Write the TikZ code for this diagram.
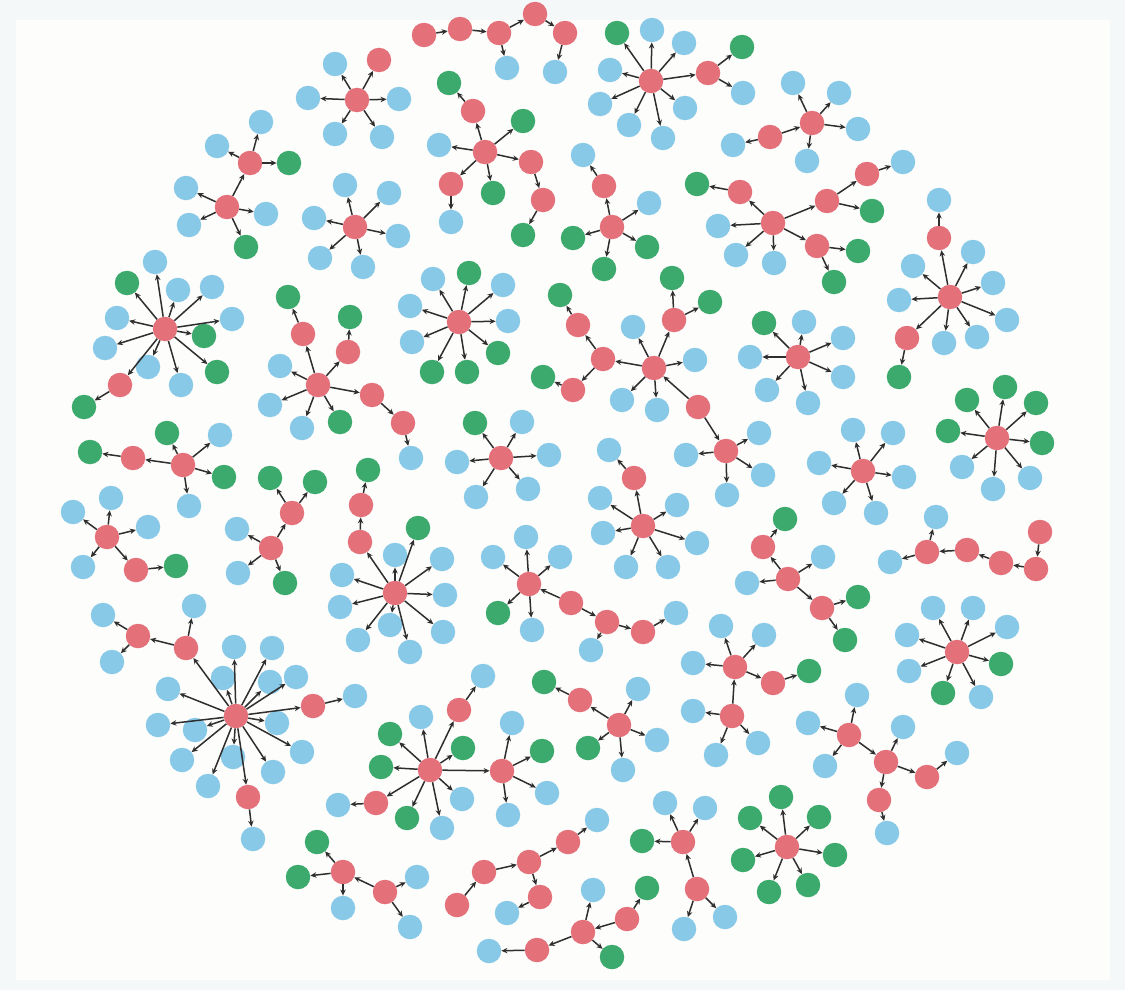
\documentclass[tikz,border=0pt]{standalone}
\usetikzlibrary{arrows.meta}
\definecolor{cR}{HTML}{E4707A}
\definecolor{cB}{HTML}{88C9E8}
\definecolor{cG}{HTML}{3BAA6C}
\definecolor{cE}{HTML}{2E2E2E}
\definecolor{bgA}{HTML}{F4F8F9}
\definecolor{bgB}{HTML}{FDFDFC}
\begin{document}
\begin{tikzpicture}[x=1pt,y=-1pt,
  nd/.style={circle,inner sep=0pt,minimum size=24.5pt,draw=none},
  rn/.style={nd,fill=cR},
  bn/.style={nd,fill=cB},
  gn/.style={nd,fill=cG},
  ed/.style={draw=cE,line width=1.5pt,-{Stealth[length=6pt,width=5.5pt]}}]
\fill[bgA] (0,0) rectangle (1125,990);
\fill[bgB] (16,20) rectangle (1110,980);
\useasboundingbox (0,0) rectangle (1125,990);
% top chain
\node[rn] (tc1) at (424,35) {};
\node[rn] (tc2) at (460,29) {};
\node[rn] (tc3) at (499,33) {};
\node[rn] (tc4) at (535,14) {};
\node[rn] (tc5) at (565,33) {};
\node[bn] (tc6) at (507,68) {};
\node[bn] (tc7) at (555,72) {};
% A
\node[rn] (a0) at (357,100) {};
\node[rn] (a1) at (379,60) {};
\node[bn] (a2) at (335,64) {};
\node[bn] (a3) at (308,98) {};
\node[bn] (a4) at (399,99) {};
\node[bn] (a5) at (335,134) {};
\node[bn] (a6) at (382,137) {};
% B
\node[rn] (b1) at (250,163) {};
\node[bn] (b2) at (261,122) {};
\node[bn] (b3) at (217,146) {};
\node[gn] (b4) at (289,163) {};
\node[rn] (b0) at (227,207) {};
\node[bn] (b5) at (186,188) {};
\node[bn] (b6) at (189,225) {};
\node[bn] (b7) at (266,214) {};
\node[gn] (b8) at (246,247) {};
% C
\node[rn] (c0) at (355,227) {};
\node[bn] (c1) at (345,185) {};
\node[bn] (c2) at (389,193) {};
\node[bn] (c3) at (398,236) {};
\node[bn] (c4) at (363,267) {};
\node[bn] (c5) at (320,258) {};
\node[bn] (c6) at (314,218) {};
% D
\node[rn] (d0) at (485,152) {};
\node[rn] (d1) at (473,111) {};
\node[gn] (d2) at (449,83) {};
\node[gn] (d3) at (523,121) {};
\node[bn] (d4) at (439,145) {};
\node[rn] (d5) at (531,162) {};
\node[rn] (d6) at (543,200) {};
\node[gn] (d7) at (523,235) {};
\node[rn] (d8) at (451,184) {};
\node[bn] (d9) at (451,222) {};
\node[gn] (d10) at (493,193) {};
% E
\node[rn] (e0) at (651,81) {};
\node[gn] (e1) at (617,33) {};
\node[bn] (e2) at (652,30) {};
\node[bn] (e3) at (684,43) {};
\node[bn] (e4) at (610,70) {};
\node[bn] (e5) at (600,104) {};
\node[bn] (e6) at (629,125) {};
\node[bn] (e7) at (663,138) {};
\node[bn] (e8) at (685,108) {};
\node[rn] (e9) at (708,73) {};
\node[gn] (e10) at (742,47) {};
\node[bn] (e11) at (743,93) {};
% F
\node[rn] (f0) at (812,123) {};
\node[bn] (f1) at (793,83) {};
\node[bn] (f2) at (839,93) {};
\node[bn] (f3) at (858,129) {};
\node[bn] (f4) at (807,161) {};
\node[rn] (f5) at (770,137) {};
\node[bn] (f6) at (733,145) {};
% G
\node[rn] (g0) at (773,223) {};
\node[rn] (g1) at (740,192) {};
\node[gn] (g2) at (697,184) {};
\node[bn] (g3) at (718,226) {};
\node[bn] (g4) at (736,255) {};
\node[bn] (g5) at (774,263) {};
\node[rn] (g6) at (817,246) {};
\node[gn] (g7) at (858,251) {};
\node[gn] (g8) at (834,282) {};
\node[rn] (g9) at (827,201) {};
\node[gn] (g10) at (872,211) {};
\node[rn] (g11) at (867,174) {};
\node[bn] (g12) at (903,162) {};
% H
\node[rn] (h0) at (612,227) {};
\node[rn] (h1) at (604,186) {};
\node[bn] (h2) at (583,155) {};
\node[bn] (h3) at (649,203) {};
\node[gn] (h4) at (647,247) {};
\node[gn] (h5) at (573,238) {};
\node[gn] (h6) at (604,269) {};
% I
\node[rn] (i0) at (950,297) {};
\node[rn] (i1) at (939,238) {};
\node[bn] (i2) at (939,200) {};
\node[bn] (i3) at (973,252) {};
\node[bn] (i4) at (993,283) {};
\node[bn] (i5) at (1007,320) {};
\node[bn] (i6) at (913,266) {};
\node[bn] (i7) at (899,300) {};
\node[rn] (i8) at (907,338) {};
\node[gn] (i9) at (899,377) {};
\node[bn] (i10) at (944,343) {};
\node[bn] (i11) at (977,337) {};
% J
\node[rn] (j0) at (165,329) {};
\node[gn] (j1) at (127,283) {};
\node[bn] (j2) at (155,262) {};
\node[bn] (j3) at (178,290) {};
\node[bn] (j4) at (212,287) {};
\node[bn] (j5) at (117,318) {};
\node[bn] (j6) at (232,319) {};
\node[gn] (j7) at (204,336) {};
\node[bn] (j8) at (105,348) {};
\node[bn] (j9) at (148,367) {};
\node[bn] (j10) at (181,385) {};
\node[gn] (j11) at (217,372) {};
\node[rn] (j12) at (120,385) {};
\node[gn] (j13) at (84,407) {};
% K
\node[rn] (k0) at (318,385) {};
\node[rn] (k1) at (303,334) {};
\node[gn] (k2) at (288,297) {};
\node[rn] (k3) at (348,352) {};
\node[gn] (k4) at (350,317) {};
\node[rn] (k5) at (372,395) {};
\node[rn] (k6) at (403,423) {};
\node[bn] (k7) at (411,458) {};
\node[bn] (k8) at (280,366) {};
\node[bn] (k9) at (270,405) {};
\node[bn] (k10) at (302,428) {};
\node[gn] (k11) at (340,422) {};
% L
\node[rn] (l0) at (459,322) {};
\node[bn] (l1) at (433,279) {};
\node[gn] (l2) at (469,273) {};
\node[bn] (l3) at (503,285) {};
\node[bn] (l4) at (410,306) {};
\node[bn] (l5) at (508,321) {};
\node[bn] (l6) at (412,342) {};
\node[gn] (l7) at (432,372) {};
\node[gn] (l8) at (467,372) {};
\node[gn] (l9) at (498,353) {};
% M
\node[rn] (m0) at (654,368) {};
\node[rn] (m1) at (674,320) {};
\node[gn] (m2) at (672,278) {};
\node[gn] (m3) at (710,302) {};
\node[bn] (m4) at (633,327) {};
\node[bn] (m5) at (695,360) {};
\node[bn] (m6) at (622,400) {};
\node[bn] (m7) at (657,410) {};
\node[rn] (m8) at (698,407) {};
\node[rn] (m9) at (603,359) {};
\node[rn] (m10) at (578,325) {};
\node[gn] (m11) at (560,295) {};
\node[rn] (m12) at (573,390) {};
\node[gn] (m13) at (543,377) {};
% N
\node[rn] (n0) at (726,451) {};
\node[bn] (n1) at (759,433) {};
\node[bn] (n2) at (763,475) {};
\node[bn] (n3) at (727,495) {};
\node[bn] (n4) at (686,455) {};
% O
\node[rn] (o0) at (798,357) {};
\node[gn] (o1) at (764,323) {};
\node[bn] (o2) at (804,322) {};
\node[bn] (o3) at (843,338) {};
\node[bn] (o4) at (750,357) {};
\node[bn] (o5) at (843,377) {};
\node[bn] (o6) at (767,390) {};
\node[bn] (o7) at (808,403) {};
% P
\node[rn] (p0) at (863,471) {};
\node[bn] (p1) at (853,430) {};
\node[bn] (p2) at (893,433) {};
\node[bn] (p3) at (904,477) {};
\node[bn] (p4) at (876,513) {};
\node[bn] (p5) at (834,503) {};
\node[bn] (p6) at (819,463) {};
% Q
\node[rn] (q0) at (997,438) {};
\node[gn] (q1) at (1005,387) {};
\node[gn] (q2) at (967,400) {};
\node[gn] (q3) at (1036,403) {};
\node[gn] (q4) at (948,431) {};
\node[gn] (q5) at (1042,443) {};
\node[bn] (q6) at (962,467) {};
\node[bn] (q7) at (993,489) {};
\node[bn] (q8) at (1030,478) {};
% R chain
\node[rn] (r1) at (927,552) {};
\node[bn] (r2) at (936,517) {};
\node[bn] (r3) at (890,562) {};
\node[rn] (r4) at (967,550) {};
\node[rn] (r5) at (1001,563) {};
\node[rn] (r6) at (1036,569) {};
\node[rn] (r7) at (1040,532) {};
% S
\node[rn] (s0) at (957,652) {};
\node[bn] (s1) at (933,608) {};
\node[bn] (s2) at (973,608) {};
\node[bn] (s3) at (1007,627) {};
\node[bn] (s4) at (907,635) {};
\node[gn] (s5) at (1001,664) {};
\node[bn] (s6) at (909,671) {};
\node[gn] (s7) at (943,693) {};
\node[bn] (s8) at (981,697) {};
% T
\node[rn] (t0) at (849,735) {};
\node[bn] (t1) at (857,695) {};
\node[bn] (t2) at (808,723) {};
\node[bn] (t3) at (825,766) {};
\node[rn] (t4) at (886,762) {};
\node[bn] (t5) at (903,727) {};
\node[rn] (t6) at (927,777) {};
\node[bn] (t7) at (957,753) {};
\node[rn] (t8) at (879,800) {};
\node[bn] (t9) at (887,833) {};
% U
\node[rn] (u0) at (787,847) {};
\node[gn] (u1) at (781,797) {};
\node[gn] (u2) at (750,818) {};
\node[gn] (u3) at (819,817) {};
\node[gn] (u4) at (835,855) {};
\node[gn] (u5) at (743,860) {};
\node[gn] (u6) at (769,892) {};
\node[gn] (u7) at (808,885) {};
% V
\node[rn] (v0) at (683,842) {};
\node[bn] (v1) at (665,803) {};
\node[bn] (v2) at (705,808) {};
\node[gn] (v3) at (642,841) {};
\node[rn] (v4) at (697,889) {};
\node[bn] (v5) at (684,929) {};
\node[bn] (v6) at (725,917) {};
% W
\node[rn] (w1) at (627,919) {};
\node[gn] (w2) at (647,888) {};
\node[rn] (w3) at (583,932) {};
\node[bn] (w4) at (593,890) {};
\node[gn] (w5) at (612,957) {};
\node[rn] (w6) at (537,950) {};
\node[bn] (w7) at (489,951) {};
% X
\node[rn] (x1) at (457,905) {};
\node[rn] (x2) at (484,872) {};
\node[rn] (x3) at (529,862) {};
\node[rn] (x4) at (568,842) {};
\node[bn] (x5) at (597,820) {};
\node[rn] (x6) at (540,897) {};
\node[bn] (x7) at (507,913) {};
% Y
\node[rn] (y1) at (343,872) {};
\node[rn] (y2) at (385,892) {};
\node[bn] (y3) at (417,877) {};
\node[bn] (y4) at (410,927) {};
\node[bn] (y5) at (343,908) {};
\node[gn] (y6) at (317,842) {};
\node[gn] (y7) at (298,877) {};
% Z
\node[rn] (z0) at (430,770) {};
\node[rn] (z1) at (459,710) {};
\node[bn] (z2) at (483,676) {};
\node[bn] (z3) at (421,717) {};
\node[gn] (z4) at (390,734) {};
\node[gn] (z5) at (463,748) {};
\node[gn] (z6) at (381,767) {};
\node[rn] (z7) at (376,803) {};
\node[bn] (z8) at (338,805) {};
\node[gn] (z9) at (407,818) {};
\node[bn] (z10) at (442,828) {};
\node[bn] (z11) at (462,799) {};
\node[rn] (z12) at (502,771) {};
\node[bn] (z13) at (512,723) {};
\node[gn] (z14) at (542,751) {};
\node[bn] (z15) at (547,793) {};
\node[bn] (z16) at (508,815) {};
% AA
\node[rn] (aa0) at (236,716) {};
\node[rn] (aa1) at (186,648) {};
\node[rn] (aa2) at (138,636) {};
\node[bn] (aa3) at (103,615) {};
\node[bn] (aa4) at (194,606) {};
\node[bn] (aa5) at (112,662) {};
\node[bn] (aa6) at (234,647) {};
\node[bn] (aa7) at (272,648) {};
\node[bn] (aa8) at (223,678) {};
\node[bn] (aa9) at (270,682) {};
\node[bn] (aa10) at (296,677) {};
\node[bn] (aa11) at (168,689) {};
\node[rn] (aa12) at (313,706) {};
\node[bn] (aa13) at (355,696) {};
\node[bn] (aa14) at (158,725) {};
\node[bn] (aa15) at (195,730) {};
\node[bn] (aa16) at (277,723) {};
\node[bn] (aa17) at (302,752) {};
\node[bn] (aa18) at (182,760) {};
\node[bn] (aa19) at (233,757) {};
\node[bn] (aa20) at (273,772) {};
\node[bn] (aa21) at (208,786) {};
\node[rn] (aa22) at (248,797) {};
\node[bn] (aa23) at (253,839) {};
% AB
\node[rn] (ab0) at (271,548) {};
\node[rn] (ab1) at (292,513) {};
\node[gn] (ab2) at (270,478) {};
\node[gn] (ab3) at (315,482) {};
\node[bn] (ab4) at (237,529) {};
\node[bn] (ab5) at (238,573) {};
\node[gn] (ab6) at (285,583) {};
% AC
\node[rn] (ac0) at (183,465) {};
\node[gn] (ac1) at (167,433) {};
\node[bn] (ac2) at (220,435) {};
\node[gn] (ac3) at (224,477) {};
\node[bn] (ac4) at (189,506) {};
\node[rn] (ac5) at (133,458) {};
\node[gn] (ac6) at (90,452) {};
% AD
\node[rn] (ad0) at (107,537) {};
\node[bn] (ad1) at (111,498) {};
\node[bn] (ad2) at (73,512) {};
\node[bn] (ad3) at (148,527) {};
\node[bn] (ad4) at (83,567) {};
\node[rn] (ad5) at (136,570) {};
\node[gn] (ad6) at (176,566) {};
% AF
\node[rn] (af0) at (395,593) {};
\node[rn] (af1) at (360,542) {};
\node[rn] (af2) at (361,505) {};
\node[gn] (af3) at (368,470) {};
\node[gn] (af4) at (418,528) {};
\node[bn] (af5) at (395,555) {};
\node[bn] (af6) at (442,559) {};
\node[bn] (af7) at (445,595) {};
\node[bn] (af8) at (443,632) {};
\node[bn] (af9) at (410,652) {};
\node[bn] (af10) at (390,625) {};
\node[bn] (af11) at (358,640) {};
\node[bn] (af12) at (340,607) {};
\node[bn] (af13) at (342,575) {};
% AG
\node[rn] (ag0) at (501,458) {};
\node[gn] (ag1) at (475,423) {};
\node[bn] (ag2) at (522,422) {};
\node[bn] (ag3) at (549,455) {};
\node[bn] (ag4) at (457,462) {};
\node[bn] (ag5) at (476,497) {};
\node[bn] (ag6) at (528,489) {};
% AH
\node[rn] (ah0) at (529,584) {};
\node[bn] (ah1) at (526,537) {};
\node[bn] (ah2) at (493,557) {};
\node[bn] (ah3) at (560,557) {};
\node[gn] (ah4) at (498,613) {};
\node[bn] (ah5) at (532,630) {};
\node[rn] (ah6) at (571,603) {};
\node[rn] (ah7) at (607,622) {};
\node[bn] (ah8) at (591,650) {};
\node[rn] (ah9) at (643,632) {};
\node[bn] (ah10) at (676,613) {};
% AI
\node[rn] (ai0) at (643,526) {};
\node[rn] (ai1) at (634,478) {};
\node[bn] (ai2) at (609,450) {};
\node[bn] (ai3) at (600,498) {};
\node[bn] (ai4) at (677,505) {};
\node[bn] (ai5) at (697,543) {};
\node[bn] (ai6) at (603,533) {};
\node[bn] (ai7) at (626,567) {};
\node[bn] (ai8) at (668,567) {};
% AJ
\node[rn] (aj0) at (788,579) {};
\node[rn] (aj1) at (763,547) {};
\node[gn] (aj2) at (785,519) {};
\node[bn] (aj3) at (823,557) {};
\node[bn] (aj4) at (747,583) {};
\node[rn] (aj5) at (822,608) {};
\node[gn] (aj6) at (858,597) {};
\node[gn] (aj7) at (845,640) {};
% AK
\node[rn] (ak0) at (619,725) {};
\node[rn] (ak1) at (580,700) {};
\node[gn] (ak2) at (544,682) {};
\node[gn] (ak3) at (588,748) {};
\node[bn] (ak4) at (623,770) {};
\node[bn] (ak5) at (638,689) {};
\node[bn] (ak6) at (657,740) {};
% AL
\node[rn] (al0) at (735,667) {};
\node[bn] (al1) at (721,626) {};
\node[bn] (al2) at (764,635) {};
\node[bn] (al3) at (693,663) {};
\node[rn] (al4) at (773,683) {};
\node[gn] (al5) at (809,671) {};
\node[rn] (al6) at (732,716) {};
\node[bn] (al7) at (693,711) {};
\node[bn] (al8) at (716,755) {};
\node[bn] (al9) at (758,743) {};
% ---------- edges ----------
\draw[ed] (tc1) -- (tc2); \draw[ed] (tc2) -- (tc3); \draw[ed] (tc3) -- (tc4);
\draw[ed] (tc4) -- (tc5); \draw[ed] (tc3) -- (tc6); \draw[ed] (tc5) -- (tc7);
\foreach \t in {a1,a2,a3,a4,a5,a6} \draw[ed] (a0) -- (\t);
\foreach \t in {b2,b3,b4} \draw[ed] (b1) -- (\t);
\foreach \t in {b1,b5,b6,b7,b8} \draw[ed] (b0) -- (\t);
\foreach \t in {c1,c2,c3,c4,c5,c6} \draw[ed] (c0) -- (\t);
\foreach \t in {d1,d3,d4,d5,d8,d10} \draw[ed] (d0) -- (\t);
\draw[ed] (d1) -- (d2); \draw[ed] (d5) -- (d6); \draw[ed] (d6) -- (d7); \draw[ed] (d8) -- (d9);
\foreach \t in {e1,e2,e3,e4,e5,e6,e7,e8,e9} \draw[ed] (e0) -- (\t);
\draw[ed] (e9) -- (e10); \draw[ed] (e9) -- (e11);
\foreach \t in {f1,f2,f3,f4} \draw[ed] (f0) -- (\t);
\draw[ed] (f5) -- (f0); \draw[ed] (f5) -- (f6);
\foreach \t in {g1,g3,g4,g5,g6,g9} \draw[ed] (g0) -- (\t);
\draw[ed] (g1) -- (g2); \draw[ed] (g6) -- (g7); \draw[ed] (g6) -- (g8);
\draw[ed] (g9) -- (g10); \draw[ed] (g9) -- (g11); \draw[ed] (g11) -- (g12);
\foreach \t in {h1,h3,h4,h5,h6} \draw[ed] (h0) -- (\t);
\draw[ed] (h1) -- (h2);
\foreach \t in {i1,i3,i4,i5,i6,i7,i8,i10,i11} \draw[ed] (i0) -- (\t);
\draw[ed] (i1) -- (i2); \draw[ed] (i8) -- (i9);
\foreach \t in {j1,j2,j3,j4,j5,j6,j7,j8,j9,j10,j11,j12} \draw[ed] (j0) -- (\t);
\draw[ed] (j12) -- (j13);
\foreach \t in {k1,k3,k5,k8,k9,k10,k11} \draw[ed] (k0) -- (\t);
\draw[ed] (k1) -- (k2); \draw[ed] (k3) -- (k4); \draw[ed] (k5) -- (k6); \draw[ed] (k6) -- (k7);
\foreach \t in {l1,l2,l3,l4,l5,l6,l7,l8,l9} \draw[ed] (l0) -- (\t);
\foreach \t in {m1,m4,m5,m6,m7,m9} \draw[ed] (m0) -- (\t);
\draw[ed] (m1) -- (m2); \draw[ed] (m1) -- (m3); \draw[ed] (m8) -- (m0); \draw[ed] (m8) -- (n0);
\draw[ed] (m9) -- (m10); \draw[ed] (m10) -- (m11); \draw[ed] (m9) -- (m12); \draw[ed] (m12) -- (m13);
\foreach \t in {n1,n2,n3,n4} \draw[ed] (n0) -- (\t);
\foreach \t in {o1,o2,o3,o4,o5,o6,o7} \draw[ed] (o0) -- (\t);
\foreach \t in {p1,p2,p3,p4,p5,p6} \draw[ed] (p0) -- (\t);
\foreach \t in {q1,q2,q3,q4,q5,q6,q7,q8} \draw[ed] (q0) -- (\t);
\draw[ed] (r1) -- (r2); \draw[ed] (r1) -- (r3); \draw[ed] (r4) -- (r1);
\draw[ed] (r5) -- (r4); \draw[ed] (r6) -- (r5); \draw[ed] (r7) -- (r6);
\foreach \t in {s1,s2,s3,s4,s5,s6,s7,s8} \draw[ed] (s0) -- (\t);
\foreach \t in {t1,t2,t3,t4} \draw[ed] (t0) -- (\t);
\foreach \t in {t5,t6,t8} \draw[ed] (t4) -- (\t);
\draw[ed] (t6) -- (t7); \draw[ed] (t8) -- (t9);
\foreach \t in {u1,u2,u3,u4,u5,u6,u7} \draw[ed] (u0) -- (\t);
\foreach \t in {v1,v2,v3} \draw[ed] (v0) -- (\t);
\draw[ed] (v4) -- (v0); \draw[ed] (v4) -- (v5); \draw[ed] (v4) -- (v6);
\draw[ed] (w1) -- (w2); \draw[ed] (w1) -- (w3);
\foreach \t in {w4,w5,w6} \draw[ed] (w3) -- (\t);
\draw[ed] (w6) -- (w7);
\draw[ed] (x1) -- (x2); \draw[ed] (x2) -- (x3); \draw[ed] (x3) -- (x4);
\draw[ed] (x4) -- (x5); \draw[ed] (x3) -- (x6); \draw[ed] (x6) -- (x7);
\foreach \t in {y1,y3,y4} \draw[ed] (y2) -- (\t);
\foreach \t in {y5,y6,y7} \draw[ed] (y1) -- (\t);
\foreach \t in {z1,z3,z4,z5,z6,z7,z9,z10,z11,z12} \draw[ed] (z0) -- (\t);
\draw[ed] (z1) -- (z2); \draw[ed] (z7) -- (z8);
\foreach \t in {z13,z14,z15,z16} \draw[ed] (z12) -- (\t);
\foreach \t in {aa1,aa6,aa7,aa8,aa9,aa10,aa11,aa12,aa14,aa15,aa16,aa17,aa18,aa19,aa20,aa21,aa22} \draw[ed] (aa0) -- (\t);
\draw[ed] (aa1) -- (aa2); \draw[ed] (aa1) -- (aa4); \draw[ed] (aa2) -- (aa3); \draw[ed] (aa2) -- (aa5);
\draw[ed] (aa12) -- (aa13); \draw[ed] (aa22) -- (aa23);
\foreach \t in {ab1,ab4,ab5,ab6} \draw[ed] (ab0) -- (\t);
\draw[ed] (ab1) -- (ab2); \draw[ed] (ab1) -- (ab3);
\foreach \t in {ac1,ac2,ac3,ac4,ac5} \draw[ed] (ac0) -- (\t);
\draw[ed] (ac5) -- (ac6);
\foreach \t in {ad1,ad2,ad3,ad4,ad5} \draw[ed] (ad0) -- (\t);
\draw[ed] (ad5) -- (ad6);
\foreach \t in {af1,af4,af5,af6,af7,af8,af9,af10,af11,af12,af13} \draw[ed] (af0) -- (\t);
\draw[ed] (af1) -- (af2); \draw[ed] (af2) -- (af3);
\foreach \t in {ag1,ag2,ag3,ag4,ag5,ag6} \draw[ed] (ag0) -- (\t);
\foreach \t in {ah1,ah2,ah3,ah4,ah5} \draw[ed] (ah0) -- (\t);
\draw[ed] (ah6) -- (ah0); \draw[ed] (ah6) -- (ah7); \draw[ed] (ah7) -- (ah8);
\draw[ed] (ah7) -- (ah9); \draw[ed] (ah9) -- (ah10);
\foreach \t in {ai1,ai3,ai4,ai5,ai6,ai7,ai8} \draw[ed] (ai0) -- (\t);
\draw[ed] (ai1) -- (ai2);
\foreach \t in {aj1,aj3,aj4,aj5} \draw[ed] (aj0) -- (\t);
\draw[ed] (aj1) -- (aj2); \draw[ed] (aj5) -- (aj6); \draw[ed] (aj5) -- (aj7);
\foreach \t in {ak1,ak3,ak4,ak5,ak6} \draw[ed] (ak0) -- (\t);
\draw[ed] (ak1) -- (ak2);
\foreach \t in {al1,al2,al3,al4} \draw[ed] (al0) -- (\t);
\draw[ed] (al4) -- (al5); \draw[ed] (al6) -- (al0);
\foreach \t in {al7,al8,al9} \draw[ed] (al6) -- (\t);
\end{tikzpicture}
\end{document}
